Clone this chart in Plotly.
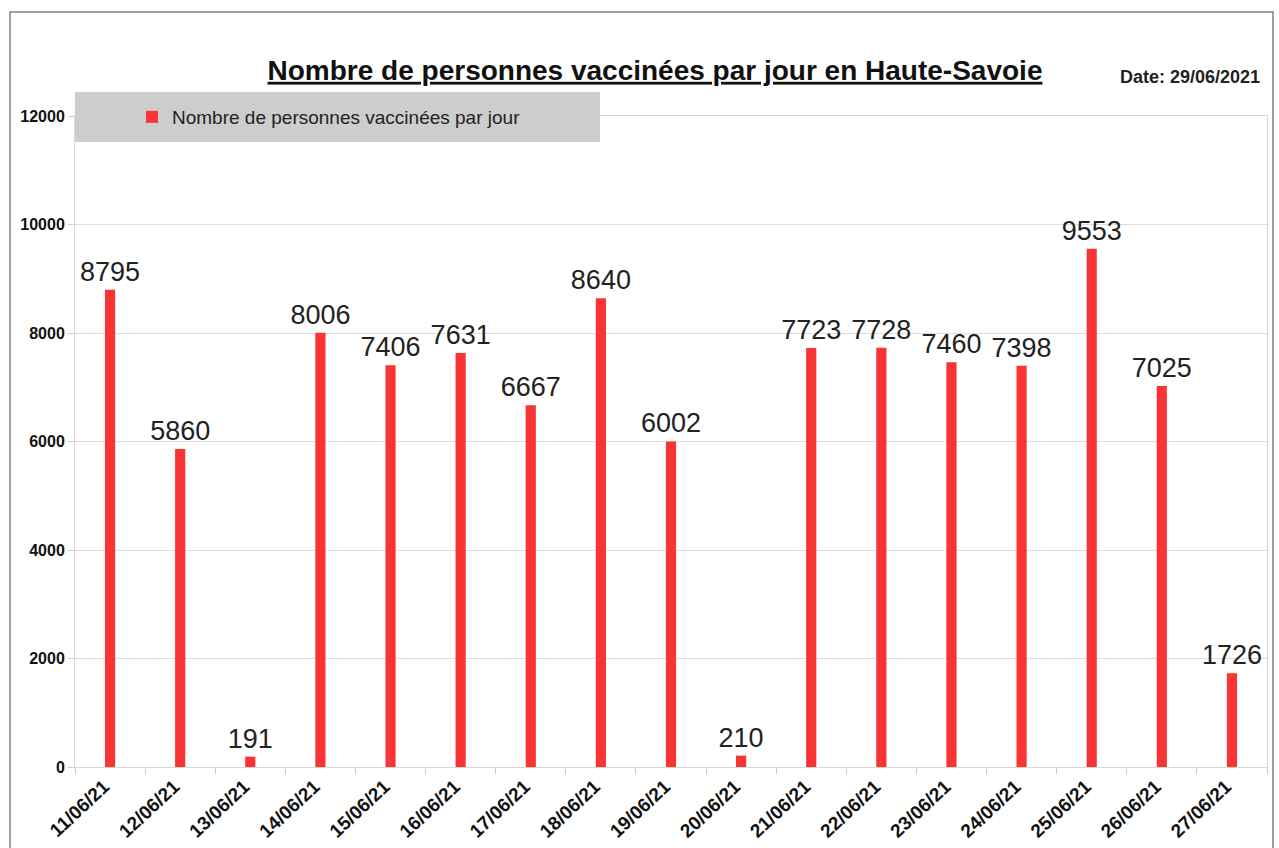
import plotly.graph_objects as go

dates = ["11/06/21", "12/06/21", "13/06/21", "14/06/21", "15/06/21", "16/06/21",
         "17/06/21", "18/06/21", "19/06/21", "20/06/21", "21/06/21", "22/06/21",
         "23/06/21", "24/06/21", "25/06/21", "26/06/21", "27/06/21"]
vaccines = [8795, 5860, 191, 8006, 7406, 7631, 6667, 8640, 6002, 210,
            7723, 7728, 7460, 7398, 9553, 7025, 1726]
y_ticks = [0, 2000, 4000, 6000, 8000, 10000, 12000]

series_name = "Nombre de personnes vaccinées par jour"
title_text = "Nombre de personnes vaccinées par jour en Haute-Savoie"
date_text = "Date: 29/06/2021"

W, H = 1279, 848
L, R, T, B = 75, 12, 116, 81
pw, ph = W - L - R, H - T - B

def px_x(x):
    return (x - L) / pw

def px_y(y):
    return (H - B - y) / ph

FONT = "Liberation Sans, Arial, sans-serif"

fig = go.Figure()
fig.add_trace(go.Bar(
    x=dates, y=vaccines, name=series_name,
    marker=dict(color="#fa3434", line=dict(width=0)),
    text=[str(v) for v in vaccines], textposition="outside",
    constraintext="none", cliponaxis=False,
    textfont=dict(family=FONT, size=27, color="#222222"),
    showlegend=True,
))

fig.update_layout(
    width=W, height=H,
    margin=dict(l=L, r=R, t=T, b=B, autoexpand=False),
    paper_bgcolor="white", plot_bgcolor="white",
    bargap=0.855,
    font=dict(family=FONT, color="#222222"),
    title=dict(text="<b><u>" + title_text + "</u></b>", x=px_x(655), xref="paper",
               xanchor="center", y=1 - 70 / H, yanchor="middle",
               font=dict(size=28, color="#111111", family=FONT)),
    showlegend=True,
    legend=dict(x=px_x(132), y=px_y(117), xanchor="left", yanchor="middle",
                bgcolor="rgba(0,0,0,0)", borderwidth=0,
                font=dict(size=19, color="#222222", family=FONT),
                itemsizing="constant"),
    xaxis=dict(type="category", showgrid=False, tickangle=-43,
               ticks="outside", tickson="boundaries", ticklen=6, tickcolor="#cccccc",
               showline=True, linecolor="#d8d8d8", mirror=True,
               tickfont=dict(size=19, color="#111111", family=FONT, weight="bold"),
               ticklabelstandoff=0, ticklabelshift=-6),
    yaxis=dict(range=[0, 12000], tickvals=y_ticks, ticktext=[str(v) for v in y_ticks],
               showgrid=True, gridcolor="#dddddd", zeroline=False,
               ticks="outside", ticklen=6, tickcolor="#cccccc",
               showline=True, linecolor="#d8d8d8", mirror=True,
               tickfont=dict(size=16, color="#111111", family=FONT, weight="bold")),
    shapes=[
        dict(type="rect", xref="paper", yref="paper",
             x0=px_x(75), x1=px_x(600), y0=px_y(142), y1=px_y(92),
             fillcolor="#cdcdcd", line=dict(width=0), layer="above"),
        dict(type="rect", xref="paper", yref="paper",
             x0=px_x(10), x1=px_x(1273), y0=px_y(860), y1=px_y(12),
             fillcolor="rgba(0,0,0,0)", line=dict(width=1.5, color="#808080"),
             layer="below"),
    ],
    annotations=[
        dict(text="<b>" + date_text + "</b>", xref="paper", yref="paper",
             x=px_x(1262), y=px_y(77), xanchor="right", yanchor="middle",
             showarrow=False, font=dict(size=18, color="#222222", family=FONT)),
    ],
)

fig.write_html("out.html", config={"displayModeBar": False},
               post_script="document.body.style.margin='0';")
